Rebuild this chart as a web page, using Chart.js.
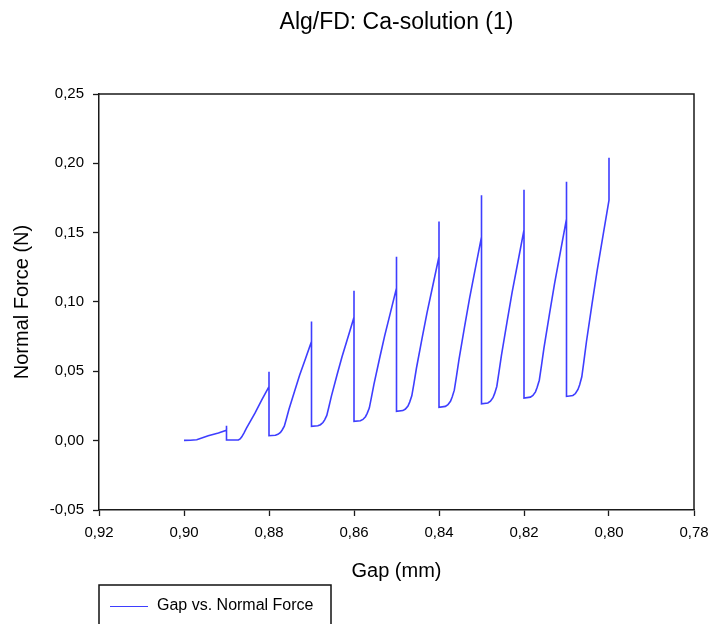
<!DOCTYPE html>
<html>
<head>
<meta charset="utf-8">
<script src="https://cdn.jsdelivr.net/npm/chart.js@4/dist/chart.umd.min.js"></script>
<style>
  html, body { margin: 0; padding: 0; background: #fff; }
  canvas { display: block; }
</style>
</head>
<body>
<canvas id="c" width="710" height="624"></canvas>
<script>
const chartTitle = "Alg/FD: Ca-solution (1)";
const seriesLabel = "Gap vs. Normal Force";
const xAxisTitle = "Gap (mm)";
const yAxisTitle = "Normal Force (N)";

const xTicks = [0.78, 0.80, 0.82, 0.84, 0.86, 0.88, 0.90, 0.92];
const yTicks = [-0.05, 0.00, 0.05, 0.10, 0.15, 0.20, 0.25];

const gapMm = [
  0.9000, 0.8985, 0.8970, 0.8943, 0.8919, 0.8902, 0.8900, 0.8900, 0.8900,
  0.8872, 0.8868, 0.8864, 0.8859, 0.8853, 0.8833, 0.8817, 0.8800, 0.8800, 0.8800,
  0.8785, 0.8779, 0.8773, 0.8769, 0.8764, 0.8759, 0.8753, 0.8740, 0.8728, 0.8714, 0.8700, 0.8700, 0.8700,
  0.8685, 0.8679, 0.8673, 0.8669, 0.8664, 0.8659, 0.8653, 0.8640, 0.8628, 0.8614, 0.8600, 0.8600, 0.8600,
  0.8585, 0.8579, 0.8573, 0.8569, 0.8564, 0.8559, 0.8553, 0.8540, 0.8528, 0.8514, 0.8500, 0.8500, 0.8500,
  0.8485, 0.8479, 0.8473, 0.8469, 0.8464, 0.8459, 0.8453, 0.8440, 0.8428, 0.8414, 0.8400, 0.8400, 0.8400,
  0.8385, 0.8379, 0.8373, 0.8369, 0.8364, 0.8359, 0.8353, 0.8340, 0.8328, 0.8314, 0.8300, 0.8300, 0.8300,
  0.8285, 0.8279, 0.8273, 0.8269, 0.8264, 0.8259, 0.8253, 0.8240, 0.8228, 0.8214, 0.8200, 0.8200, 0.8200,
  0.8185, 0.8179, 0.8173, 0.8169, 0.8164, 0.8159, 0.8153, 0.8140, 0.8128, 0.8114, 0.8100, 0.8100, 0.8100,
  0.8085, 0.8079, 0.8073, 0.8069, 0.8064, 0.8059, 0.8053, 0.8040, 0.8028, 0.8014, 0.8000, 0.8000
];

const normalForceN = [
  0.0002, 0.0003, 0.0007, 0.0036, 0.0055, 0.0074, 0.0078, 0.0108, 0.0005,
  0.0005, 0.0012, 0.0028, 0.0055, 0.0090, 0.0198, 0.0294, 0.0390, 0.0497, 0.0036,
  0.0039, 0.0046, 0.0060, 0.0077, 0.0104, 0.0158, 0.0226, 0.0355, 0.0471, 0.0593, 0.0715, 0.0859, 0.0103,
  0.0107, 0.0115, 0.0131, 0.0150, 0.0182, 0.0245, 0.0323, 0.0473, 0.0607, 0.0748, 0.0890, 0.1082, 0.0139,
  0.0144, 0.0153, 0.0173, 0.0197, 0.0235, 0.0312, 0.0408, 0.0591, 0.0754, 0.0927, 0.1100, 0.1327, 0.0211,
  0.0217, 0.0228, 0.0250, 0.0278, 0.0323, 0.0412, 0.0524, 0.0736, 0.0925, 0.1126, 0.1327, 0.1580, 0.0241,
  0.0247, 0.0259, 0.0284, 0.0315, 0.0364, 0.0462, 0.0585, 0.0819, 0.1028, 0.1249, 0.1470, 0.1770, 0.0266,
  0.0272, 0.0285, 0.0310, 0.0341, 0.0391, 0.0492, 0.0617, 0.0855, 0.1069, 0.1294, 0.1520, 0.1810, 0.0307,
  0.0314, 0.0326, 0.0352, 0.0385, 0.0436, 0.0540, 0.0669, 0.0915, 0.1135, 0.1367, 0.1600, 0.1867, 0.0319,
  0.0326, 0.0340, 0.0369, 0.0404, 0.0461, 0.0574, 0.0715, 0.0985, 0.1225, 0.1480, 0.1735, 0.2040
];

const FONT = "'Liberation Sans', Arial, sans-serif";
const LINE_COLOR = "rgb(62,62,255)";

const points = gapMm.map((g, i) => ({ x: g, y: normalForceN[i] }));
const fmt = v => v.toFixed(2).replace('.', ',');

const decorPlugin = {
  id: 'decor',
  afterDraw(chart) {
    const ctx = chart.ctx;
    const a = chart.chartArea;
    ctx.save();
    // frame (top and right)
    ctx.strokeStyle = '#1a1a1a';
    ctx.lineWidth = 1.5;
    ctx.beginPath();
    ctx.moveTo(a.left, a.top);
    ctx.lineTo(a.right, a.top);
    ctx.lineTo(a.right, a.bottom);
    ctx.stroke();
    // title
    ctx.fillStyle = '#000';
    ctx.font = "23px " + FONT;
    ctx.textAlign = 'center';
    ctx.textBaseline = 'middle';
    ctx.fillText(chartTitle, (a.left + a.right) / 2, 23);
    // legend box
    ctx.lineWidth = 1.5;
    ctx.strokeStyle = '#111';
    ctx.strokeRect(99, 585, 232, 60);
    ctx.strokeStyle = LINE_COLOR;
    ctx.lineWidth = 1;
    ctx.beginPath();
    ctx.moveTo(110, 606.5);
    ctx.lineTo(148, 606.5);
    ctx.stroke();
    ctx.fillStyle = '#000';
    ctx.font = "16px " + FONT;
    ctx.textAlign = 'left';
    ctx.fillText(seriesLabel, 157, 606);
    ctx.restore();
  }
};

new Chart(document.getElementById('c'), {
  type: 'scatter',
  data: {
    datasets: [{
      label: seriesLabel,
      data: points,
      showLine: true,
      borderColor: LINE_COLOR,
      borderWidth: 1.6,
      pointRadius: 0,
      pointHoverRadius: 0,
      tension: 0,
      fill: false
    }]
  },
  options: {
    responsive: false,
    animation: false,
    events: [],
    layout: { padding: { top: 94, right: 16, left: 0, bottom: 0 } },
    plugins: {
      legend: { display: false },
      title: { display: false },
      tooltip: { enabled: false }
    },
    scales: {
      x: {
        type: 'linear',
        reverse: true,
        min: 0.78,
        max: 0.92,
        afterBuildTicks: s => { s.ticks = xTicks.map(v => ({ value: v })); },
        afterFit: s => { s.height = 114; },
        grid: { display: true, drawOnChartArea: false, drawTicks: true, tickLength: 6, color: '#1a1a1a', tickWidth: 1.3 },
        border: { display: true, color: '#1a1a1a', width: 1.5 },
        ticks: {
          color: '#000',
          font: { family: FONT, size: 15 },
          padding: 8,
          maxRotation: 0,
          callback: v => fmt(v)
        },
        title: {
          display: true,
          text: xAxisTitle,
          color: '#000',
          font: { family: FONT, size: 20 },
          padding: { top: 0, bottom: 41 }
        }
      },
      y: {
        type: 'linear',
        min: -0.05,
        max: 0.25,
        afterBuildTicks: s => { s.ticks = yTicks.map(v => ({ value: v })); },
        afterFit: s => { s.width = 99; },
        grid: { display: true, drawOnChartArea: false, drawTicks: true, tickLength: 6, color: '#1a1a1a', tickWidth: 1.3 },
        border: { display: true, color: '#1a1a1a', width: 1.5 },
        ticks: {
          color: '#000',
          font: { family: FONT, size: 15 },
          padding: 9,
          callback: v => fmt(v)
        },
        title: {
          display: true,
          text: yAxisTitle,
          color: '#000',
          font: { family: FONT, size: 20 },
          padding: { top: 10, bottom: 0 }
        }
      }
    }
  },
  plugins: [decorPlugin]
});
</script>
</body>
</html>
